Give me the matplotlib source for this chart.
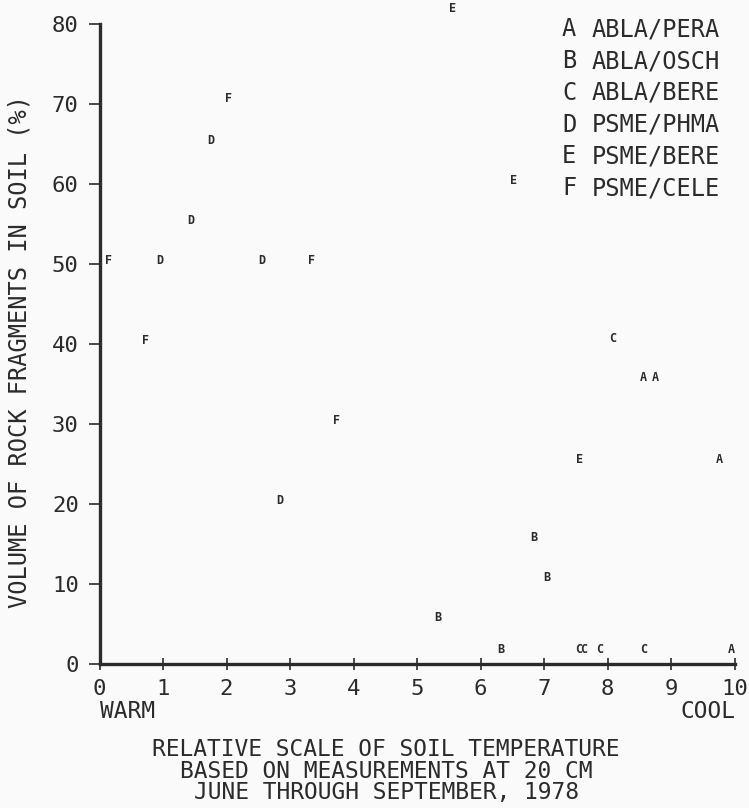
import matplotlib
matplotlib.use("Agg")
import matplotlib.pyplot as plt

# ---- data (letter = community type) ----
x_A = [8.57, 8.75, 9.76, 9.95]
y_A = [35.3, 35.3, 25.1, 1.3]

x_B = [6.84, 7.05, 5.33, 6.32]
y_B = [15.3, 10.3, 5.3, 1.3]

x_C = [8.08, 7.54, 7.63, 7.87, 8.57]
y_C = [40.2, 1.3, 1.3, 1.3, 1.3]

x_D = [0.95, 1.44, 1.75, 2.55, 2.84]
y_D = [50.0, 55.0, 65.0, 50.0, 20.0]

x_E = [5.56, 6.52, 7.56]
y_E = [81.5, 60.0, 25.1]

x_F = [0.14, 0.72, 2.04, 3.34, 3.74]
y_F = [50.0, 40.0, 70.2, 50.0, 30.0]

legend_codes = ["A", "B", "C", "D", "E", "F"]
legend_names = ["ABLA/PERA", "ABLA/OSCH", "ABLA/BERE", "PSME/PHMA", "PSME/BERE", "PSME/CELE"]

x_ticks = list(range(0, 11))
y_ticks = list(range(0, 81, 10))

ink = "#2b2b2b"
font = "DejaVu Sans Mono"
W, H = 749, 808

fig = plt.figure(figsize=(7.49, 8.08), dpi=100, facecolor="#fafafa")
ax = fig.add_axes([99.5 / W, 1 - 663.5 / H, (734.5 - 99.5) / W, (663.5 - 24) / H])
ax.set_facecolor("#fafafa")
ax.set_xlim(0, 10)
ax.set_ylim(0, 80)

series = [("A", x_A, y_A), ("B", x_B, y_B), ("C", x_C, y_C),
          ("D", x_D, y_D), ("E", x_E, y_E), ("F", x_F, y_F)]
for code, xs, ys in series:
    for xv, yv in zip(xs, ys):
        ax.text(xv, yv, code, ha="center", va="baseline", fontsize=8.5,
                color=ink, family=font, fontweight="bold", clip_on=False)

for s in ["top", "right"]:
    ax.spines[s].set_visible(False)
for s in ["left", "bottom"]:
    ax.spines[s].set_linewidth(2.4)
    ax.spines[s].set_color(ink)

ax.set_xticks(x_ticks)
ax.set_yticks(y_ticks)
ax.set_xticklabels([str(v) for v in x_ticks], fontsize=16, color=ink, family=font)
ax.set_yticklabels([str(v) for v in y_ticks], fontsize=16, color=ink, family=font)
ax.tick_params(axis="y", direction="out", length=8, width=1.2, color=ink, pad=7)
ax.tick_params(axis="x", direction="inout", length=9, width=1.2, color=ink, pad=7)

fig.text(20 / W, 1 - 352 / H, "VOLUME OF ROCK FRAGMENTS IN SOIL (%)", rotation=90,
         fontsize=17, color=ink, family=font, ha="center", va="center")

fig.text(100 / W, 1 - 712 / H, "WARM", fontsize=16.5, color=ink, family=font,
         ha="left", va="center")
fig.text(735 / W, 1 - 712 / H, "COOL", fontsize=16.5, color=ink, family=font,
         ha="right", va="center")
bottom_lines = ["RELATIVE SCALE OF SOIL TEMPERATURE",
                "BASED ON MEASUREMENTS AT 20 CM",
                "JUNE THROUGH SEPTEMBER, 1978"]
for i, line in enumerate(bottom_lines):
    fig.text(386 / W, 1 - (749 + 22 * i) / H, line, fontsize=16.5, color=ink,
             family=font, ha="center", va="center")

for i, (c, n) in enumerate(zip(legend_codes, legend_names)):
    yy = 1 - (29.5 + i * 31.7) / H
    fig.text(562 / W, yy, c, fontsize=17, color=ink, family=font, ha="left", va="center")
    fig.text(592 / W, yy, n, fontsize=17, color=ink, family=font, ha="left", va="center")

fig.savefig("out.png", dpi=100, facecolor=fig.get_facecolor())
